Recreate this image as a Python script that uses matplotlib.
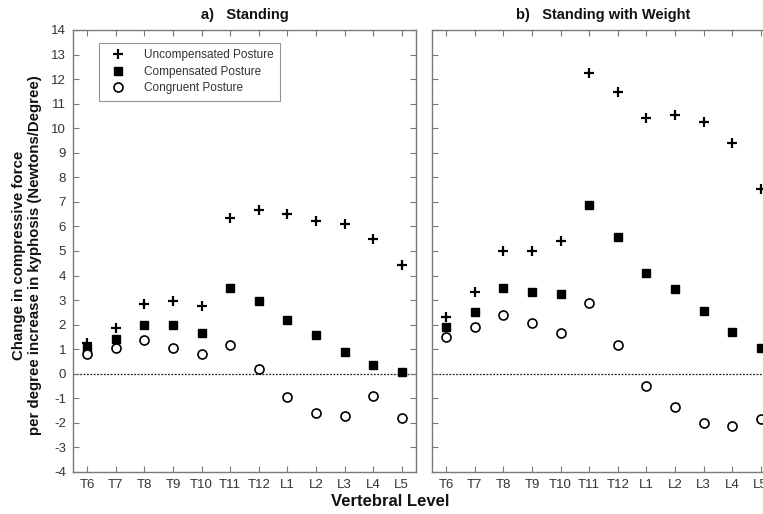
import matplotlib
matplotlib.use("Agg")
import matplotlib.pyplot as plt

plt.rcParams["font.family"] = ["Liberation Sans", "DejaVu Sans"]
plt.rcParams["axes.unicode_minus"] = False

levels = ["T6", "T7", "T8", "T9", "T10", "T11", "T12", "L1", "L2", "L3", "L4", "L5"]

stand_uncomp = [1.24, 1.87, 2.86, 2.96, 2.77, 6.36, 6.67, 6.52, 6.23, 6.08, 5.48, 4.45]
stand_comp = [1.03, 1.41, 2.00, 1.97, 1.66, 3.50, 2.96, 2.21, 1.56, 0.88, 0.37, 0.07]
stand_cong = [0.81, 1.03, 1.36, 1.04, 0.79, 1.19, 0.18, -0.95, -1.59, -1.71, -0.92, -1.79]

weight_uncomp = [2.31, 3.32, 5.00, 5.00, 5.40, 12.23, 11.47, 10.42, 10.55, 10.25, 9.40, 7.53]
weight_comp = [1.90, 2.53, 3.51, 3.32, 3.26, 6.89, 5.55, 4.11, 3.46, 2.54, 1.72, 1.06]
weight_cong = [1.49, 1.89, 2.38, 2.07, 1.66, 2.90, 1.16, -0.48, -1.36, -2.00, -2.14, -1.86]

y_ticks = list(range(-4, 15))
titles = ["a)   Standing", "b)   Standing with Weight"]
series_names = ["Uncompensated Posture", "Compensated Posture", "Congruent Posture"]

fig = plt.figure(figsize=(7.63, 5.14), dpi=100)
ax1 = fig.add_axes([73/763, 1-472/514, 343/763, 442/514])
ax2 = fig.add_axes([432/763, 1-472/514, 343/763, 442/514])

x = list(range(1, len(levels) + 1))
spine_col = "#7a7a7a"
text_col = "#333333"

for ax, data, title in [(ax1, (stand_uncomp, stand_comp, stand_cong), titles[0]),
                        (ax2, (weight_uncomp, weight_comp, weight_cong), titles[1])]:
    u, c, g = data
    ax.axhline(0, color="#222222", linestyle=(0, (1.5, 1.2)), linewidth=0.9, zorder=1)
    ax.plot(x, u, linestyle="none", marker="+", markersize=7.5, markeredgewidth=1.6,
            color="black", label=series_names[0], zorder=3)
    ax.plot(x, c, linestyle="none", marker="s", markersize=5.5, color="black",
            label=series_names[1], zorder=3)
    ax.plot(x, g, linestyle="none", marker="o", markersize=6.5, markerfacecolor="white",
            markeredgecolor="black", markeredgewidth=1.2, label=series_names[2], zorder=4)
    ax.set_xlim(0.5, 12.5)
    ax.set_ylim(-4, 14)
    ax.set_xticks(x)
    ax.set_xticklabels(levels)
    ax.set_yticks(y_ticks)
    ax.tick_params(direction="in", top=True, right=True, length=4, width=0.8,
                   color=spine_col, labelsize=9.5, labelcolor=text_col, pad=5)
    for s in ax.spines.values():
        s.set_color(spine_col)
        s.set_linewidth(1.0)
    ax.set_title(title, fontsize=10.5, fontweight="bold", color="#111111", pad=8)

ax2.tick_params(labelleft=False)
ax2.spines["right"].set_visible(False)

leg = ax1.legend(loc="upper left", bbox_to_anchor=(0.06, 0.985), fontsize=8.5,
                 frameon=True, fancybox=False, edgecolor=spine_col, borderpad=0.55,
                 handletextpad=1.2, labelspacing=0.4)
leg.get_frame().set_linewidth(0.8)
for t in leg.get_texts():
    t.set_color(text_col)

fig.text(27/763, 1 - 255/514, "Change in compressive force\nper degree increase in kyphosis (Newtons/Degree)",
         rotation=90, ha="center", va="center", fontsize=10.8, fontweight="bold",
         color="#111111", linespacing=1.1)
fig.text(390/763, 1 - 501/514, "Vertebral Level", ha="center", va="center",
         fontsize=12, fontweight="bold", color="#111111")

fig.savefig("out.png", dpi=100)
